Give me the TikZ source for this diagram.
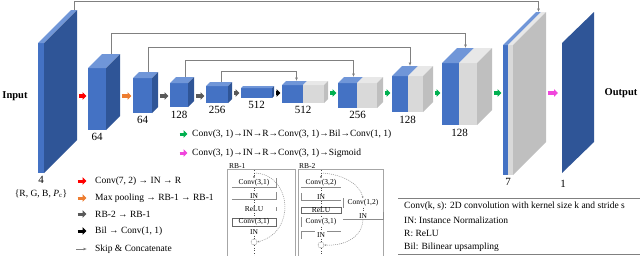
\documentclass[tikz,border=0pt]{standalone}
\usepackage{fontspec}
\setmainfont{Liberation Serif}
\definecolor{BlueFront}{RGB}{68,114,196}
\definecolor{BlueSide}{RGB}{47,85,151}
\definecolor{BlueTop}{RGB}{112,150,216}
\definecolor{GrayFront}{RGB}{217,217,217}
\definecolor{GraySide}{RGB}{191,191,191}
\definecolor{GrayTop}{RGB}{232,232,232}
\definecolor{ArrRed}{RGB}{255,0,0}
\definecolor{ArrOrange}{RGB}{237,125,49}
\definecolor{ArrGray}{RGB}{89,89,89}
\definecolor{ArrGreen}{RGB}{0,176,80}
\definecolor{ArrMagenta}{RGB}{240,70,220}
\definecolor{SkipGray}{RGB}{128,128,128}
\usetikzlibrary{arrows.meta,positioning,calc}

% #1 name, #2 x, #3 top y, #4 bottom y, #5 blue width, #6 gray width, #7 depth, #8 label
\newcommand{\netblock}[8]{%
  \ifnum#6=0 \def\sidecol{BlueSide}\else\def\sidecol{GraySide}\fi
  \fill[BlueFront] (#2,#3) rectangle ({#2+#5},#4);
  \fill[GrayFront] ({#2+#5},#3) rectangle ({#2+#5+#6},#4);
  \fill[BlueTop] (#2,#3) -- ({#2+#5},#3) -- ({#2+#5+#7},{#3-#7}) -- ({#2+#7},{#3-#7}) -- cycle;
  \fill[GrayTop] ({#2+#5},#3) -- ({#2+#5+#6},#3) -- ({#2+#5+#6+#7},{#3-#7}) -- ({#2+#5+#7},{#3-#7}) -- cycle;
  \fill[\sidecol] ({#2+#5+#6},#3) -- ({#2+#5+#6+#7},{#3-#7}) -- ({#2+#5+#6+#7},{#4-#7}) -- ({#2+#5+#6},#4) -- cycle;
  \node[inner sep=0,minimum width={(#5+#6+#7)*1pt},minimum height={(#4-#3+#7)*1pt},anchor=north west] (#1) at (#2,{#3-#7}) {};
  \coordinate (#1-sk) at ({#2+#7+#5/2},{#3-#7});
  \node[blocklabel,below=2.5pt] (#1-lab) at ({#2+(#5+#6)/2},#4) {#8};
}

\tikzset{
  blocklabel/.style={font=\fontsize{11}{12}\selectfont,inner sep=1pt},
  iotext/.style={font=\fontsize{10.5}{12}\selectfont\bfseries},
  legtext/.style={font=\fontsize{9.5}{11}\selectfont,inner sep=0,anchor=west},
  thickarr/.style={line width=3.5pt,-{Triangle[length=4pt,width=7.5pt]},shorten <=1.5pt,shorten >=1.5pt},
  skipline/.style={SkipGray,line width=1pt,-{Latex[length=3.5pt,width=3pt]}},
  rbtext/.style={font=\fontsize{7.5}{8}\selectfont,inner sep=1pt},
  rblayer/.style={rbtext,minimum width=44pt},
  rbline/.style={black!45,line width=0.5pt},
  rbframe/.style={black!35,line width=0.6pt},
  rbflow/.style={black!70,dotted,line width=0.6pt},
  rbskip/.style={black!45,dash pattern=on 1pt off 1pt,line width=0.5pt},
  rbsum/.style={circle,draw=black!50,dash pattern=on 1pt off 0.6pt,minimum size=6pt,inner sep=0}
}

\begin{document}
\begin{tikzpicture}[x=1pt,y=-1pt]
\useasboundingbox (0,0) rectangle (640,255);

% encoder
\netblock{inslab}{38}{43}{173}{6}{0}{33}{4}
\netblock{b64a}{88}{68}{130}{18}{0}{14}{64}
\netblock{b64b}{133}{78}{113}{19}{0}{6}{64}
\netblock{b128a}{170}{83}{107}{18}{0}{6}{128}
\netblock{b256a}{206}{86}{103}{22}{0}{4}{256}
\netblock{b512a}{241}{88}{98}{31}{0}{2}{512}
% decoder
\netblock{b512b}{282}{85}{103}{21}{21}{4}{512}
\netblock{b256b}{338}{83}{108}{19}{20}{6}{256}
\netblock{b128b}{392}{76}{112}{16}{15}{10}{128}
\netblock{b128c}{442}{63}{125}{17}{18}{15}{128}
\netblock{b7}{503}{45}{175}{5}{5}{33}{7}
\fill[BlueSide] (562,43) -- (594,12) -- (594,142) -- (562,173) -- cycle;
\node[inner sep=0,minimum width=32pt,minimum height=161pt,anchor=north west] (outslab) at (562,12) {};
\node[blocklabel] (outslab-lab) at (563,184) {1};
\node[font=\fontsize{9.5}{11}\selectfont,inner sep=0] (inset) at (41,194) {\{R, G, B, \textit{P}\textsubscript{c}\}};

\node[iotext] (intext) at (15,96) {Input};
\node[iotext] (outtext) at (621,93) {Output};

% main path
\coordinate (encrow) at (0,96);
\coordinate (decrow) at (0,93);
\draw[thickarr,ArrRed] (inslab.east |- encrow) -- (b64a.west |- encrow);
\draw[thickarr,ArrOrange] (b64a.east |- encrow) -- (b64b.west |- encrow);
\draw[thickarr,ArrGray] (b64b.east |- encrow) -- (b128a.west |- encrow);
\draw[thickarr,ArrGray] (b128a.east |- encrow) -- (b256a.west |- encrow);
\draw[thickarr,ArrGray] (b256a.east |- decrow) -- (b512a.west |- decrow);
\draw[thickarr,black] (b512a.east |- decrow) -- (b512b.west |- decrow);
\draw[thickarr,ArrGreen] (b512b.east |- decrow) -- (b256b.west |- decrow);
\draw[thickarr,ArrGreen] (b256b.east |- decrow) -- (b128b.west |- decrow);
\draw[thickarr,ArrGreen] (b128b.east |- decrow) -- (b128c.west |- decrow);
\draw[thickarr,ArrGreen] (b128c.east |- decrow) -- (b7.west |- decrow);
\draw[thickarr,ArrMagenta,shorten >=4pt] (b7.east |- decrow) -- (outslab.west |- decrow);

% skip connections
\coordinate (lv1) at (0,1);
\coordinate (lv2) at (0,33);
\coordinate (lv3) at (0,47);
\coordinate (lv4) at (0,60);
\coordinate (lv5) at (0,71);
\draw[skipline] (inslab-sk) |- (lv1 -| b7-sk) -- (b7-sk);
\draw[skipline] (b64a-sk) |- (lv2 -| b128c-sk) -- (b128c-sk);
\draw[skipline] (b64b-sk) |- (lv3 -| b128b-sk) -- (b128b-sk);
\draw[skipline] (b128a-sk) |- (lv4 -| b256b-sk) -- (b256b-sk);
\draw[skipline] (b256a-sk) |- (lv5 -| b512b-sk) -- (b512b-sk);

% legend, left
\node[legtext] (lgA) at (95,181) {Conv(7, 2) → IN → R};
\node[legtext] (lgB) at (95,198) {Max pooling → RB-1 → RB-1};
\node[legtext] (lgC) at (95,214) {RB-2 → RB-1};
\node[legtext] (lgD) at (95,231) {Bil → Conv(1, 1)};
\node[legtext] (lgE) at (95,249) {Skip \& Concatenate};
\draw[thickarr,ArrRed,line width=3pt] ([xshift=-19pt]lgA.west) -- ([xshift=-7pt]lgA.west);
\draw[thickarr,ArrOrange,line width=3pt] ([xshift=-19pt]lgB.west) -- ([xshift=-7pt]lgB.west);
\draw[thickarr,ArrGray,line width=3pt] ([xshift=-19pt]lgC.west) -- ([xshift=-7pt]lgC.west);
\draw[thickarr,black,line width=3pt] ([xshift=-19pt]lgD.west) -- ([xshift=-7pt]lgD.west);
\draw[skipline] ([xshift=-19pt]lgE.west) -- ([xshift=-8pt]lgE.west);

% legend, middle
\node[legtext] (lgF) at (192,134) {Conv(3, 1)→IN→R→Conv(3, 1)→Bil→Conv(1, 1)};
\node[legtext] (lgG) at (192,153) {Conv(3, 1)→IN→R→Conv(3, 1)→Sigmoid};
\draw[thickarr,ArrGreen,line width=3pt] ([xshift=-14pt]lgF.west) -- ([xshift=-3pt]lgF.west);
\draw[thickarr,ArrMagenta,line width=3pt] ([xshift=-14pt]lgG.west) -- ([xshift=-3pt]lgG.west);

% RB-1
\node[rbtext,anchor=south west] (rbA-title) at (228,170) {RB-1};
\draw[rbframe] (227,169) rectangle (295,256);
\coordinate (rbA-in) at (254,170);
\node[rblayer] (rbA-c1) at (254,183) {Conv(3,1)};
\node[rblayer] (rbA-i1) at (254,196) {IN};
\node[rblayer] (rbA-r1) at (254,209) {ReLU};
\node[rblayer,draw=black!60,line width=0.5pt,inner ysep=0.5pt] (rbA-c2) at (254,222) {Conv(3,1)};
\node[rblayer] (rbA-i2) at (254,232) {IN};
\node[rbsum] (rbA-s) at (254,242) {};
\coordinate (rbA-out) at (254,256);
\draw[rbline] (rbA-c1.south west) -- (rbA-c1.south east) -- (rbA-c1.north east);
\draw[rbline] (rbA-i1.south west) -- (rbA-i1.south east) -- (rbA-i1.north east);
\draw[rbline] ([yshift=-2pt]rbA-r1.north east) -- ([yshift=2pt]rbA-r1.south east);
\draw[rbflow,-{Latex[length=2pt,width=2pt]}] (rbA-in) -- (rbA-c1);
\draw[rbflow] (rbA-c1) -- (rbA-i1);
\draw[rbflow] (rbA-i1) -- (rbA-r1);
\draw[rbflow] (rbA-r1) -- (rbA-c2);
\draw[rbflow] (rbA-c2) -- (rbA-i2);
\draw[rbflow] (rbA-i2) -- (rbA-s);
\draw[rbflow] (rbA-s) -- (rbA-out);
\draw[rbskip,-{Latex[length=2pt,width=2pt]}] (256,173) .. controls (292,176) and (296,232) .. (rbA-s.east);

% RB-2
\node[rbtext,anchor=south west] (rbB-title) at (298,170) {RB-2};
\draw[rbframe] (298,169) rectangle (383,256);
\coordinate (rbB-in) at (321,170);
\node[rblayer,minimum width=40pt] (rbB-c1) at (321,183) {Conv(3,2)};
\node[rblayer,minimum width=40pt] (rbB-i1) at (321,197) {IN};
\node[rblayer,minimum width=40pt,draw=black!60,line width=0.5pt,inner ysep=0.5pt] (rbB-r1) at (321,210) {ReLU};
\node[rblayer,minimum width=40pt] (rbB-c2) at (321,222) {Conv(3,1)};
\node[rblayer,minimum width=40pt] (rbB-i2) at (321,235) {IN};
\node[rbsum] (rbB-s) at (321,245) {};
\coordinate (rbB-out) at (321,256);
\node[rblayer,minimum width=40pt] (rbB-c3) at (363,203) {Conv(1,2)};
\node[rblayer,minimum width=40pt] (rbB-i3) at (363,216) {IN};
\draw[rbline] (rbB-c1.south west) -- (rbB-c1.south east);
\draw[rbline] (rbB-i1.north west) -- (rbB-i1.south west) -- (rbB-i1.south east);
\draw[rbline] (rbB-c2.north west) -- (rbB-c2.south west);
\draw[rbline] (rbB-i2.south west) -- (rbB-i2.north west) -- ([xshift=-6pt]rbB-i2.north);
\draw[rbline] ([xshift=6pt]rbB-i2.north) -- (rbB-i2.north east);
\draw[rbline] (rbB-c3.north west) -- (rbB-c3.south west);
\draw[rbline] (rbB-i3.south west) -- (rbB-i3.south east) -- (rbB-i3.north east);
\draw[rbflow,-{Latex[length=2pt,width=2pt]}] (rbB-in) -- (rbB-c1);
\draw[rbflow] (rbB-c1) -- (rbB-i1);
\draw[rbflow] (rbB-i1) -- (rbB-r1);
\draw[rbflow] (rbB-r1) -- (rbB-c2);
\draw[rbflow] (rbB-c2) -- (rbB-i2);
\draw[rbflow] (rbB-i2) -- (rbB-s);
\draw[rbflow] (rbB-s) -- (rbB-out);
\draw[rbflow] (rbB-c3) -- (rbB-i3);
\draw[rbskip,-{Latex[length=2pt,width=2pt]}] (323,173) .. controls (345,175) and (360,185) .. (rbB-c3.north);
\draw[rbskip,-{Latex[length=2pt,width=2pt]}] (rbB-i3.south) .. controls (362,240) and (340,246) .. (rbB-s.east);

% notation box
\draw[black!50,line width=0.6pt] (398,198) -- (640,198);
\draw[black!50,line width=0.6pt] (398,254) -- (640,254);
\node[legtext] (ntA) at (404,206) {Conv(k, s): 2D convolution with kernel size k and stride s};
\node[legtext] (ntB) at (404,220) {IN: Instance Normalization};
\node[legtext] (ntC) at (404,233) {R: ReLU};
\node[legtext] (ntD) at (404,247) {Bil: Bilinear upsampling};
\end{tikzpicture}
\end{document}
